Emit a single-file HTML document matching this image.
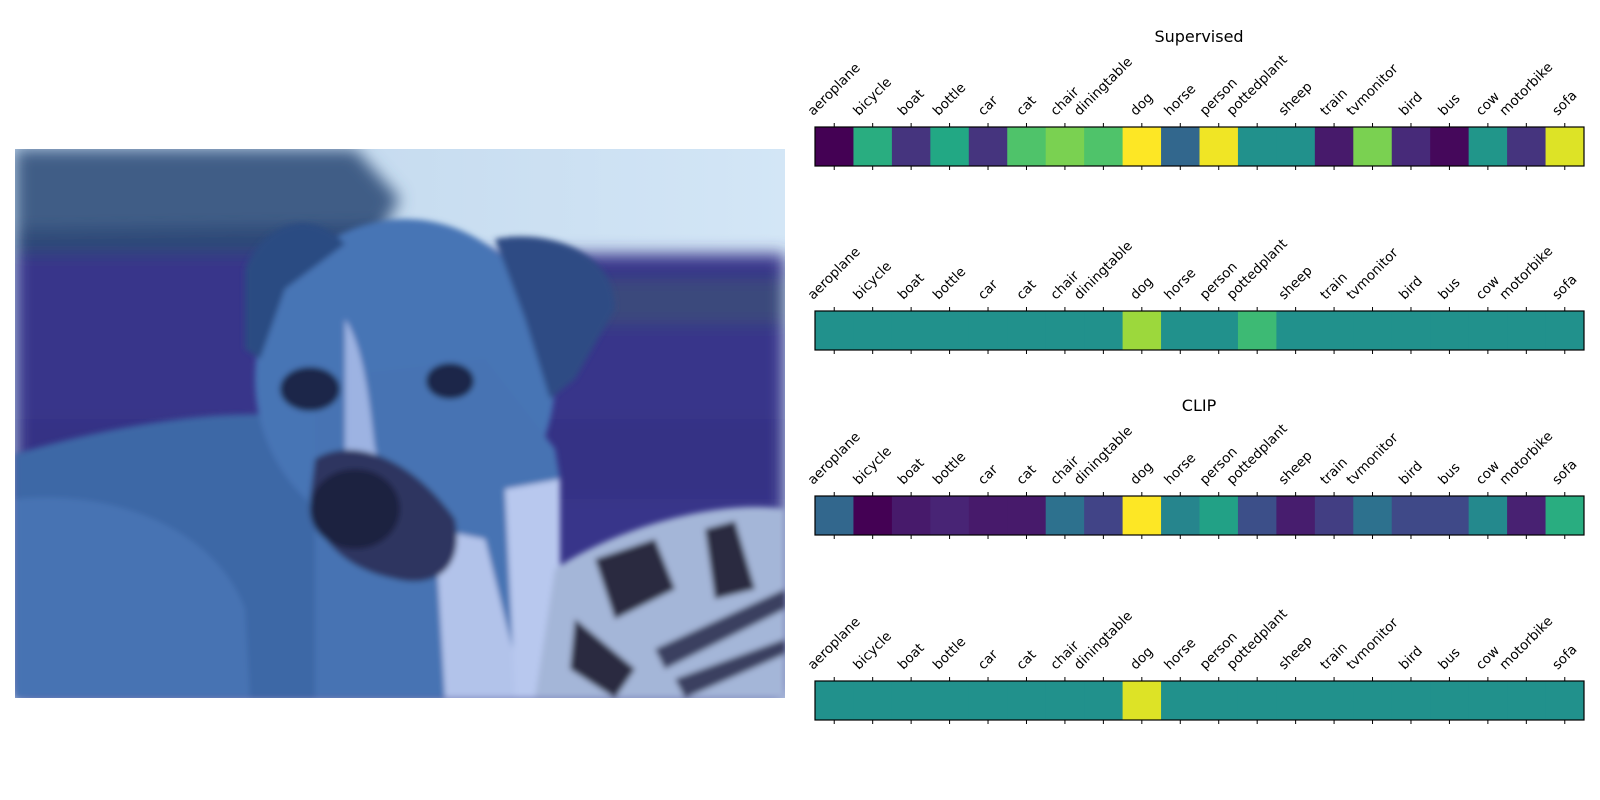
<!DOCTYPE html>
<html><head><meta charset="utf-8">
<style>
html,body{margin:0;padding:0;background:#fff;}
svg{display:block;font-family:"DejaVu Sans","Liberation Sans",sans-serif;}
</style></head>
<body>
<svg id="fig" width="1600" height="800" viewBox="0 0 1600 800" xmlns="http://www.w3.org/2000/svg">
  <defs>
    <filter id="blur8"><feGaussianBlur stdDeviation="8"/></filter>
    <filter id="blur3"><feGaussianBlur stdDeviation="3"/></filter>
    <clipPath id="imgclip"><rect x="0" y="0" width="770" height="549"/></clipPath>
    <linearGradient id="sky" x1="0" y1="0" x2="1" y2="0"><stop offset="0" stop-color="#bcd3ea"/><stop offset="1" stop-color="#d3e6f6"/></linearGradient>
  </defs>
  <g transform="translate(15,149)" clip-path="url(#imgclip)">
    <rect width="770" height="549" fill="url(#sky)"/>
    <g filter="url(#blur8)">
      <polygon points="0,0 340,0 385,50 370,75 0,80" fill="#3f5d86"/>
      <polygon points="0,80 370,75 380,110 0,115" fill="#2f4a78"/>
      <rect x="0" y="105" width="770" height="444" fill="#37368a"/>
      <rect x="560" y="130" width="210" height="45" fill="#3a4a7c"/>
      <rect x="0" y="270" width="770" height="80" fill="#343385"/>
    </g>
    <g filter="url(#blur3)">
      <path d="M0,305 C120,270 260,250 330,280 L420,549 L0,549 Z" fill="#3c67a6"/>
      <path d="M0,350 C100,340 200,380 230,460 L235,549 L0,549 Z" fill="#4673b3"/>
      <ellipse cx="390" cy="230" rx="150" ry="160" fill="#4775b5"/>
      <path d="M300,230 L470,210 L540,300 L545,330 L540,549 L300,549 Z" fill="#4673b3"/>
      <path d="M230,120 C250,70 300,60 330,95 L270,140 L245,210 L230,200 Z" fill="#2c4b82"/>
      <path d="M480,90 C530,80 600,100 600,160 L560,230 L535,250 L510,170 Z" fill="#2d4c84"/>
      <path d="M330,170 C350,200 355,260 360,300 L380,360 L330,330 Z" fill="#9db3e2"/>
      <path d="M420,380 L470,390 L510,549 L430,549 Z" fill="#b2c3ea"/>
      <path d="M490,340 L545,330 L545,549 L500,549 Z" fill="#b8c8ee"/>
      <ellipse cx="295" cy="240" rx="30" ry="22" fill="#1e2748"/>
      <ellipse cx="435" cy="232" rx="24" ry="18" fill="#1e2748"/>
      <path d="M300,310 C330,290 390,300 440,370 C450,420 420,440 380,430 C330,420 300,390 295,350 Z" fill="#2d3660"/>
      <ellipse cx="340" cy="360" rx="45" ry="40" fill="#1f2440"/>
      <path d="M540,420 C600,380 700,350 770,360 L770,549 L520,549 Z" fill="#a4b6d8"/>
      <path d="M580,410 L640,390 L660,440 L600,470 Z M690,380 L720,372 L740,440 L700,450 Z M560,470 L620,520 L600,549 L555,520 Z" fill="#2a2a40"/>
      <path d="M640,500 L770,440 L770,460 L650,520 Z M660,530 L770,490 L770,505 L670,549 Z" fill="#3a4060"/>
    </g>
  </g>

  <text x="1199" y="42" text-anchor="middle" font-size="16" fill="#000">Supervised</text>
  <text x="1199" y="411" text-anchor="middle" font-size="16" fill="#000">CLIP</text>
  <g id="heatmaps"></g>
</svg>
<script>
// Categories and per-row scores (viridis colormap position 0..1)
const categories = ["aeroplane","bicycle","boat","bottle","car","cat","chair","diningtable","dog","horse","person","pottedplant","sheep","train","tvmonitor","bird","bus","cow","motorbike","sofa"];
const supervisedScores = [0.0,0.62,0.15,0.6,0.15,0.72,0.8,0.72,1.0,0.33,0.98,0.5,0.5,0.07,0.8,0.12,0.02,0.52,0.15,0.95];
const supervisedSoftmax = [0.5,0.5,0.5,0.5,0.5,0.5,0.5,0.5,0.85,0.5,0.5,0.68,0.5,0.5,0.5,0.5,0.5,0.5,0.5,0.5];
const clipScores = [0.33,0.0,0.07,0.1,0.07,0.07,0.37,0.2,1.0,0.45,0.57,0.24,0.08,0.18,0.37,0.22,0.22,0.47,0.09,0.62];
const clipSoftmax = [0.5,0.5,0.5,0.5,0.5,0.5,0.5,0.5,0.95,0.5,0.5,0.5,0.5,0.5,0.5,0.5,0.5,0.5,0.5,0.5];
const rows = [supervisedScores, supervisedSoftmax, clipScores, clipSoftmax];
const rowNames = ["supervised-logits","supervised-probs","clip-logits","clip-probs"];

const VIR = [[68,1,84],[72,36,117],[65,68,135],[53,95,141],[42,120,142],[33,145,140],[34,168,132],[68,191,112],[122,209,81],[189,223,38],[253,231,37]];
function viridis(t){t=Math.max(0,Math.min(1,t));const f=t*10,i=Math.min(9,Math.floor(f)),r=f-i;
  const a=VIR[i],b=VIR[i+1];return "rgb("+a.map((v,k)=>Math.round(v+(b[k]-v)*r)).join(",")+")";}

const svgNS="http://www.w3.org/2000/svg";
const root=document.getElementById("heatmaps");
const X0=815, X1=1584, H=39;
const rowTops=[127,311,496,681];
const cw=(X1-X0)/categories.length;
function xPos(i){return X0+i*cw;}

rows.forEach((vals,r)=>{
  const y0=rowTops[r];
  const g=document.createElementNS(svgNS,"g");
  
  
  root.appendChild(g);
  vals.forEach((v,i)=>{
    const rc=document.createElementNS(svgNS,"rect");
    rc.setAttribute("x",xPos(i));rc.setAttribute("y",y0);
    rc.setAttribute("width",cw+0.5);rc.setAttribute("height",H);
    rc.setAttribute("fill",viridis(v));
    
    
    g.appendChild(rc);
  });
  const fr=document.createElementNS(svgNS,"rect");
  fr.setAttribute("x",X0);fr.setAttribute("y",y0);fr.setAttribute("width",X1-X0);fr.setAttribute("height",H);
  fr.setAttribute("fill","none");fr.setAttribute("stroke","#000");fr.setAttribute("stroke-width","1.2");
  
  
  g.appendChild(fr);
  categories.forEach((c,i)=>{
    const cx=xPos(i)+cw/2;
    [[y0-4,y0],[y0+H,y0+H+4]].forEach(p=>{
      const t=document.createElementNS(svgNS,"line");
      t.setAttribute("x1",cx);t.setAttribute("x2",cx);t.setAttribute("y1",p[0]);t.setAttribute("y2",p[1]);
      t.setAttribute("stroke","#000");t.setAttribute("stroke-width","1");
      
      
      g.appendChild(t);
    });
    const tx=document.createElementNS(svgNS,"text");
    tx.textContent=c;tx.setAttribute("font-size","13.5");tx.setAttribute("text-anchor","middle");
    tx.setAttribute("dominant-baseline","central");
    
    
    g.appendChild(tx);
    const w=tx.getComputedTextLength(), h=13;
    const bh=(w+h)*0.7071;
    const cy=y0-9-bh/2;
    tx.setAttribute("x",cx);tx.setAttribute("y",cy);
    tx.setAttribute("transform","rotate(-45 "+cx+" "+cy+")");
  });
});
</script>
</body></html>
